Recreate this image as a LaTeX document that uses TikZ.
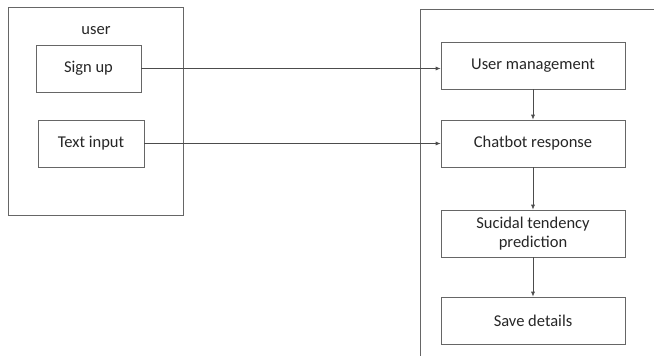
\documentclass[tikz,border=0pt]{standalone}
\usepackage{fontspec}
\setmainfont{Carlito}
\usetikzlibrary {arrows.meta,positioning}

\begin{document}
\begin{tikzpicture}[x=1pt,y=-1pt,font=\fontsize{16.5}{19}\selectfont,line width=0.7pt]
      \useasboundingbox (0,0) rectangle (654,356);
      % frames
      \draw[gray!80!black] (8,7) rectangle (183,215);
      \draw[gray!80!black] (654,9) -- (420,9) -- (420,356);
      \node (U)[text=black!85] at (96,31) {user};
      \begin{scope}[every node/.style={rectangle,draw=gray!80!black,text=black!85,align=center,minimum height=47pt}]
        \node (S)[minimum width=105pt] at (88.5,68.5) {Sign up};
        \node (T)[minimum width=106pt] at (91,143.5) {Text input};
        \node (M)[minimum width=184pt] at (533,65.5) {User management};
        \node (C)[minimum width=184pt] at (533,143.5) {Chatbot response};
        \node (P)[minimum width=184pt] at (533,233.5) {Sucidal tendency\\prediction};
        \node (D)[minimum width=184pt] at (533,320.5) {Save details};
      \end{scope}
      \begin{scope}
        [every edge/.style={draw= gray!60!black, -{Latex[length=5pt,width=4pt]}}]
        \path (S.east) edge (S.east -| M.west);
        \path (T) edge (C);
        \path (M) edge (C);
        \path (C) edge (P);
        \path (P) edge (D);
      \end{scope}
    \end{tikzpicture}
\end{document}
